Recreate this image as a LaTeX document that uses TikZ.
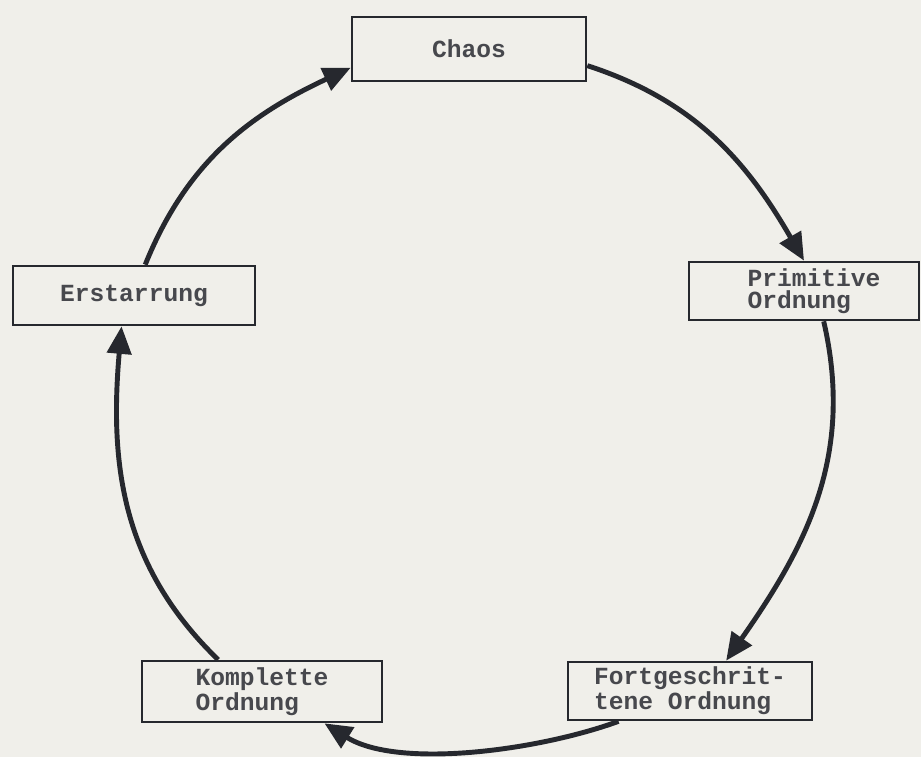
\documentclass[tikz,border=0pt]{standalone}
\usepackage{fontspec}
\setmonofont{Liberation Mono}
\usetikzlibrary{arrows.meta}

\definecolor{paper}{RGB}{240,239,234}
\definecolor{ink}{RGB}{38,40,46}

\begin{document}
\begin{tikzpicture}[scale=1,
        phase/.style={draw=ink, line width=1.5pt, fill=paper, inner sep=0pt, align=left,
            font=\ttfamily\bfseries\fontsize{14}{12.5}\selectfont, text=ink!85},
        flow/.style={draw=ink, line width=2.8pt, -{Triangle[length=0.55cm, width=0.48cm]}}]

        \useasboundingbox (0,0) rectangle (18.42,15.14);
        \path[fill=paper] (0,0) rectangle (18.42,15.14);

        \node[phase, minimum width=4.68cm, minimum height=1.28cm] (chaos) at (9.38,14.16) {Chaos};
        \node[phase, minimum width=4.60cm, minimum height=1.16cm] (prim) at (16.08,9.32) {\hspace*{0.4cm}Primitive\\\hspace*{0.4cm}Ordnung};
        \node[phase, minimum width=4.88cm, minimum height=1.16cm] (fort) at (13.80,1.32) {Fortgeschrit-\\tene Ordnung};
        \node[phase, minimum width=4.80cm, minimum height=1.22cm] (kompl) at (5.24,1.31) {Komplette\\Ordnung};
        \node[phase, minimum width=4.84cm, minimum height=1.18cm] (erst) at (2.68,9.23) {Erstarrung};

        \path[flow] (chaos.-8) to[out=-18, in=120] (prim.north);
        \path[flow] (prim.-57) to[out=-77, in=55] (fort.40);
        \path[flow] (fort.-157) to[out=-160, in=-32, looseness=0.75] (kompl.-27);
        \path[flow] (kompl.144) to[out=136, in=-95] (erst.-112);
        \path[flow] (erst.70) to[out=68, in=205] (chaos.189);

    \end{tikzpicture}
\end{document}
